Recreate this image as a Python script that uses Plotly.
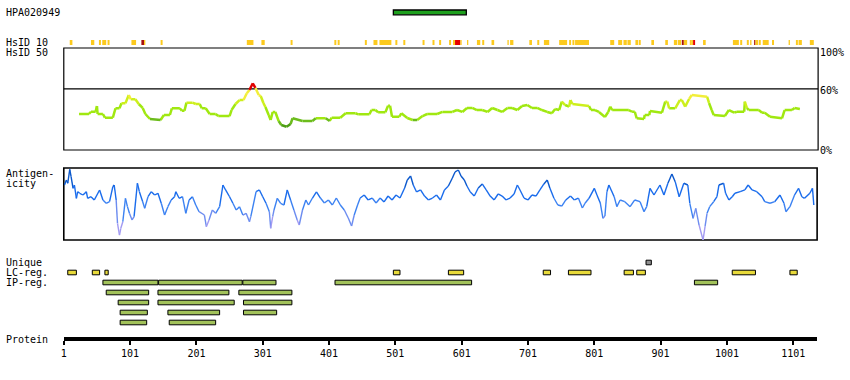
import plotly.graph_objects as go

W, H = 850, 380
PROTEIN_LEN = 1137

# ---------------- data ----------------
hpa_name = "HPA020949"
hpa_start = [498]
hpa_end = [608]

# HsID 10 hits: start, end, level (1 = yellow, 2 = red, 3 = dark red)
hsid10_start = [10, 42, 54, 59, 67, 103, 118, 122, 147, 277, 299, 343, 409, 414, 455, 468, 477, 501, 513,
                542, 557, 567, 582, 588, 591, 599, 609, 624, 632, 646, 670, 674, 703, 715, 725, 748, 763,
                768, 772, 825, 837, 845, 851, 863, 868, 887, 908, 921, 927, 933, 936, 945, 948, 950, 965,
                1010, 1021, 1031, 1036, 1042, 1044, 1049, 1055, 1069, 1094, 1105, 1109, 1126]
hsid10_end = [14, 47, 57, 65, 70, 110, 122, 124, 150, 287, 304, 346, 412, 417, 458, 474, 495, 504, 516,
              545, 560, 570, 585, 591, 599, 601, 611, 629, 635, 650, 672, 679, 707, 718, 733, 760, 766,
              771, 793, 831, 843, 850, 856, 867, 871, 891, 912, 926, 932, 936, 941, 948, 950, 953, 969,
              1019, 1024, 1034, 1038, 1044, 1048, 1052, 1064, 1072, 1096, 1108, 1114, 1132]
hsid10_level = [1, 1, 1, 1, 1, 1, 3, 1, 1, 1, 1, 1, 1, 1, 1, 1, 1, 1, 1,
                1, 1, 1, 1, 1, 2, 1, 1, 1, 1, 1, 1, 1, 1, 1, 1, 1, 1,
                1, 1, 1, 1, 1, 1, 1, 1, 1, 1, 1, 1, 3, 1, 1, 1, 2, 1,
                1, 1, 1, 1, 3, 1, 1, 1, 1, 1, 1, 1, 1]

# HsID 50 identity (%)
hsid50_res = [24, 39, 42, 49, 51, 52, 60, 63, 75, 79, 85, 88, 94, 99, 102, 109, 114, 120, 124, 131,
              147, 152, 161, 164, 176, 179, 183, 186, 195, 200, 206, 209, 215, 221, 230, 234, 251, 254,
              260, 266, 272, 277, 281, 286, 290, 295, 298, 302, 305, 310, 313, 316, 320, 325, 329, 337,
              343, 346, 361, 376, 381, 396, 402, 405, 418, 426, 441, 445, 462, 465, 471, 475, 486, 490,
              493, 496, 507, 510, 519, 527, 534, 542, 549, 564, 572, 587, 594, 602, 609, 617, 624, 632,
              640, 647, 655, 662, 670, 677, 685, 692, 700, 707, 715, 722, 730, 737, 742, 748, 752, 757,
              763, 765, 768, 793, 796, 802, 808, 817, 822, 825, 828, 853, 858, 862, 865, 876, 877, 884,
              885, 903, 908, 911, 914, 923, 930, 933, 938, 944, 948, 971, 974, 978, 981, 998, 1004, 1012,
              1016, 1027, 1028, 1031, 1034, 1049, 1054, 1058, 1066, 1084, 1088, 1099, 1103, 1111]
hsid50_pct = [35.3, 35.3, 37.5, 37.5, 43.1, 35.3, 35.3, 31.7, 31.7, 40.9, 40.9, 45.8, 45.8, 53.9, 49.7,
              49.7, 45.1, 41.2, 35.3, 30.4, 29.4, 34.3, 34.3, 40.9, 40.9, 38.5, 38.5, 46.4, 46.4, 45.1,
              45.1, 40.9, 40.9, 35.3, 35.3, 33.3, 33.3, 39.2, 45.1, 49.0, 49.0, 55.6, 58.8, 65.4, 60.8,
              53.9, 52.9, 46.1, 42.2, 34.3, 29.4, 37.3, 37.3, 28.4, 24.5, 22.8, 25.5, 31.1, 28.5, 28.5,
              31.1, 31.1, 28.5, 31.7, 31.7, 36.0, 36.0, 35.0, 35.0, 39.2, 39.2, 37.0, 37.0, 43.4, 43.4,
              32.6, 32.6, 36.0, 31.4, 29.4, 29.4, 33.3, 35.3, 35.3, 37.3, 37.3, 39.2, 37.3, 41.2, 41.2,
              39.2, 39.2, 37.3, 41.2, 39.2, 37.3, 41.2, 41.2, 39.2, 43.1, 44.1, 41.2, 41.2, 39.2, 37.3,
              36.0, 40.2, 39.2, 47.4, 44.1, 42.5, 49.0, 45.1, 43.1, 39.2, 39.2, 37.3, 32.4, 37.3, 42.5,
              39.2, 39.2, 37.5, 37.5, 31.1, 30.4, 34.3, 34.3, 38.2, 36.6, 47.4, 47.4, 40.9, 40.9, 49.0,
              49.0, 42.5, 50.0, 53.9, 52.3, 46.1, 39.2, 34.3, 33.3, 39.2, 36.6, 37.5, 37.5, 47.4, 41.2,
              39.2, 39.2, 36.6, 36.6, 32.6, 31.1, 39.2, 39.2, 41.2, 40.2]

# Antigenicity score (relative, 0-100)
antigen_res = [2, 5, 7, 10, 12, 15, 17, 20, 22, 25, 30, 35, 37, 42, 47, 55, 60, 65, 70, 75, 77, 80, 82,
               85, 87, 90, 94, 97, 100, 104, 107, 112, 115, 120, 123, 128, 133, 138, 143, 148, 153, 158,
               163, 168, 170, 175, 180, 185, 190, 195, 200, 205, 213, 216, 220, 225, 230, 236, 241, 245,
               251, 256, 261, 266, 271, 276, 281, 283, 291, 296, 301, 306, 311, 313, 316, 318, 323, 328,
               333, 338, 343, 348, 353, 356, 361, 366, 370, 376, 382, 388, 394, 400, 406, 412, 418, 424,
               430, 435, 439, 444, 448, 454, 460, 466, 472, 478, 484, 490, 496, 502, 508, 515, 519, 524,
               528, 533, 539, 545, 551, 557, 563, 569, 575, 581, 587, 591, 596, 600, 605, 609, 614, 620,
               626, 632, 638, 644, 650, 656, 662, 668, 674, 680, 685, 689, 695, 701, 707, 713, 719, 725,
               730, 734, 740, 746, 752, 758, 765, 771, 777, 783, 787, 793, 801, 805, 810, 814, 817, 820,
               823, 831, 835, 840, 847, 855, 862, 870, 876, 880, 885, 891, 900, 906, 912, 918, 923, 929,
               936, 942, 945, 950, 954, 959, 965, 968, 971, 975, 981, 986, 989, 996, 999, 1004, 1009,
               1013, 1021, 1028, 1033, 1039, 1046, 1054, 1058, 1066, 1073, 1081, 1087, 1090, 1096, 1103,
               1109, 1114, 1118, 1126, 1130, 1132]
antigen_val = [76.4, 83.3, 78.8, 98.2, 87.9, 71.8, 76.4, 57.9, 67.1, 64.9, 62.5, 67.1, 57.9, 60.1, 55.6,
               69.5, 55.6, 51.0, 53.2, 74.0, 76.4, 55.6, 23.2, 6.9, 16.3, 25.4, 57.9, 46.3, 37.1, 27.8,
               32.4, 78.8, 67.1, 53.2, 44.0, 60.1, 67.1, 62.5, 64.9, 51.0, 34.7, 46.3, 55.6, 60.1, 67.1,
               57.9, 60.1, 37.1, 55.6, 60.1, 48.6, 39.3, 34.7, 18.5, 27.8, 41.7, 37.1, 46.3, 76.4, 69.5,
               60.1, 51.0, 41.7, 46.3, 34.7, 37.1, 25.4, 32.4, 67.1, 69.5, 60.1, 51.0, 39.3, 16.3, 32.4,
               41.7, 57.9, 51.0, 48.6, 69.5, 55.6, 41.7, 27.8, 20.8, 41.7, 55.6, 48.6, 58.3, 66.7, 58.3,
               51.4, 55.6, 48.6, 58.3, 48.6, 41.7, 30.6, 19.4, 34.7, 48.6, 58.3, 62.5, 55.6, 58.3, 51.4,
               58.3, 52.8, 61.1, 55.6, 62.5, 58.3, 72.2, 83.3, 88.9, 76.4, 66.7, 69.5, 61.1, 55.6, 58.3,
               62.5, 55.6, 69.5, 75.0, 86.1, 94.5, 97.2, 88.9, 83.3, 75.0, 66.7, 61.1, 72.2, 77.8, 69.5,
               61.1, 55.6, 63.9, 61.1, 55.6, 58.3, 63.9, 76.4, 69.5, 58.3, 55.6, 62.5, 61.1, 69.5, 77.8,
               83.3, 72.2, 58.3, 48.6, 47.2, 55.6, 61.1, 55.6, 58.3, 44.4, 51.0, 57.9, 71.8, 62.5, 51.4,
               30.1, 33.3, 67.1, 76.4, 60.1, 46.3, 55.6, 53.2, 46.3, 55.6, 53.2, 39.3, 46.3, 71.8, 62.5,
               76.4, 62.5, 78.8, 91.7, 81.0, 60.1, 78.8, 76.4, 51.0, 30.1, 44.0, 20.8, 0.0, 18.5, 37.1,
               46.3, 53.2, 60.1, 76.4, 78.8, 64.9, 55.6, 60.1, 64.9, 67.1, 69.5, 76.4, 69.5, 67.1, 60.1,
               53.2, 51.0, 53.2, 62.5, 51.0, 39.3, 46.3, 62.5, 71.8, 60.1, 57.9, 64.9, 71.8, 48.6]

unique_start = [879]
unique_end = [887]

lc_start = [7, 44, 63, 498, 581, 724, 762, 846, 865, 1009, 1096]
lc_end = [20, 55, 68, 508, 604, 735, 796, 860, 878, 1044, 1107]

ip_start = [60, 144, 271, 410, 952, 65, 143, 265, 83, 143, 272, 86, 158, 272, 86, 160]
ip_end = [143, 270, 321, 616, 987, 129, 250, 345, 129, 258, 345, 127, 236, 322, 126, 230]

tick_vals = [1, 101, 201, 301, 401, 501, 601, 701, 801, 901, 1001, 1101]
tick_text = ["1", "101", "201", "301", "401", "501", "601", "701", "801", "901", "1001", "1101"]

# ---------------- helpers ----------------
FONT = "DejaVu Sans Mono"


def fx(px):
    return px / W


def fy(py):
    return 1 - py / H


def hsid50_color(p):
    if p >= 60:
        return "#e00000"
    if p >= 50:
        return "#f2ee3a"
    if p >= 44:
        return "#cdef1c"
    if p >= 30:
        return "#a0e810"
    if p >= 26:
        return "#6cbc1c"
    return "#4e9e14"


def antigen_color(v):
    if v >= 75:
        return "#0b58cc"
    if v >= 55:
        return "#1a6cec"
    if v >= 40:
        return "#3c82f2"
    if v >= 25:
        return "#6c8cf0"
    return "#a29af2"


def segment_traces(xs, ys, colfun, yaxis, width):
    groups = {}
    for i in range(len(xs) - 1):
        c = colfun((ys[i] + ys[i + 1]) / 2)
        gx, gy = groups.setdefault(c, ([], []))
        gx += [xs[i], xs[i + 1], None]
        gy += [ys[i], ys[i + 1], None]
    out = []
    for c, (gx, gy) in groups.items():
        out.append(go.Scatter(x=gx, y=gy, mode="lines", line=dict(color=c, width=width),
                              xaxis="x", yaxis=yaxis, hoverinfo="skip", showlegend=False,
                              connectgaps=False))
    return out


fig = go.Figure()
for t in segment_traces(hsid50_res, hsid50_pct, hsid50_color, "y", 2.5):
    fig.add_trace(t)
for t in segment_traces(antigen_res, antigen_val, antigen_color, "y2", 1.4):
    fig.add_trace(t)

shapes = []
# HsID 50 box and 60% line
shapes.append(dict(type="rect", xref="paper", yref="paper", x0=fx(61), x1=fx(818), y0=fy(150), y1=fy(48),
                   line=dict(color="black", width=1.2), layer="below"))
shapes.append(dict(type="line", xref="paper", yref="y", x0=fx(61), x1=fx(818), y0=60, y1=60,
                   line=dict(color="black", width=1.2), layer="below"))
# Antigenicity box
shapes.append(dict(type="rect", xref="paper", yref="paper", x0=fx(61), x1=fx(817), y0=fy(240), y1=fy(168),
                   line=dict(color="black", width=1.6), layer="below"))

# HPA antigen bar
for s, e in zip(hpa_start, hpa_end):
    shapes.append(dict(type="rect", xref="x", yref="paper", x0=s, x1=e, y0=fy(14.8), y1=fy(10),
                       fillcolor="#1ea01e", line=dict(color="black", width=1.3)))

# HsID 10 marks
lvl_col = {1: "#fcca1e", 2: "#e60000", 3: "#a81010"}
for s, e, l in zip(hsid10_start, hsid10_end, hsid10_level):
    shapes.append(dict(type="rect", xref="x", yref="paper", x0=s, x1=e, y0=fy(45), y1=fy(40),
                       fillcolor=lvl_col[l], line=dict(width=0)))


def box(s, e, cy, color):
    return dict(type="rect", xref="x", yref="paper", x0=s, x1=e, y0=fy(cy + 2.3), y1=fy(cy - 2.3),
                fillcolor=color, line=dict(color="black", width=1))


for s, e in zip(unique_start, unique_end):
    shapes.append(box(s, e, 262.5, "#909090"))
for s, e in zip(lc_start, lc_end):
    shapes.append(box(s, e, 272.5, "#e8da3a"))

# IP regions: greedy lane packing
lanes = []
for s, e in zip(ip_start, ip_end):
    placed = False
    for k, lane in enumerate(lanes):
        if all(e <= a or s >= b for a, b in lane):
            lane.append((s, e))
            placed = True
            break
    if not placed:
        k = len(lanes)
        lanes.append([(s, e)])
    shapes.append(box(s, e, 282.5 + 10 * k, "#a2c25a"))

annotations = []


def label(text, px, py, anchor="left"):
    annotations.append(dict(text=text, xref="paper", yref="paper", x=fx(px), y=fy(py), showarrow=False,
                            xanchor=anchor, yanchor="middle", font=dict(family=FONT, size=10, color="black")))


label(hpa_name, 1, 13)
label("HsID 10", 1, 42.5)
label("HsID 50", 1, 52.5)
label("Antigen-", 1, 173.5)
label("icity", 1, 183.5)
label("Unique", 1, 262.5)
label("LC-reg.", 1, 272.5)
label("IP-reg.", 1, 282.5)
label("Protein", 1, 339)
label("100%", 818, 52.5)
label("60%", 818, 90.5)
label("0%", 818, 150)

fig.update_layout(
    width=W, height=H, autosize=False,
    margin=dict(l=0, r=0, t=0, b=0),
    paper_bgcolor="white", plot_bgcolor="white",
    showlegend=False,
    shapes=shapes, annotations=annotations,
    xaxis=dict(domain=[fx(61), fx(817)], range=[1, PROTEIN_LEN], anchor="free", position=fy(339),
               showline=True, linewidth=4, linecolor="black", ticks="outside", ticklen=4, tickwidth=2,
               tickcolor="black", tickvals=tick_vals, ticktext=tick_text,
               tickfont=dict(family=FONT, size=10, color="black"), showgrid=False, zeroline=False),
    yaxis=dict(domain=[fy(150), fy(48)], range=[0, 100], visible=False, showgrid=False),
    yaxis2=dict(domain=[fy(240), fy(168)], range=[0, 100], visible=False, showgrid=False),
)

fig.write_html("out.html", config={"displayModeBar": False},
               post_script="document.body.style.margin='0px';document.body.style.overflow='hidden';")
